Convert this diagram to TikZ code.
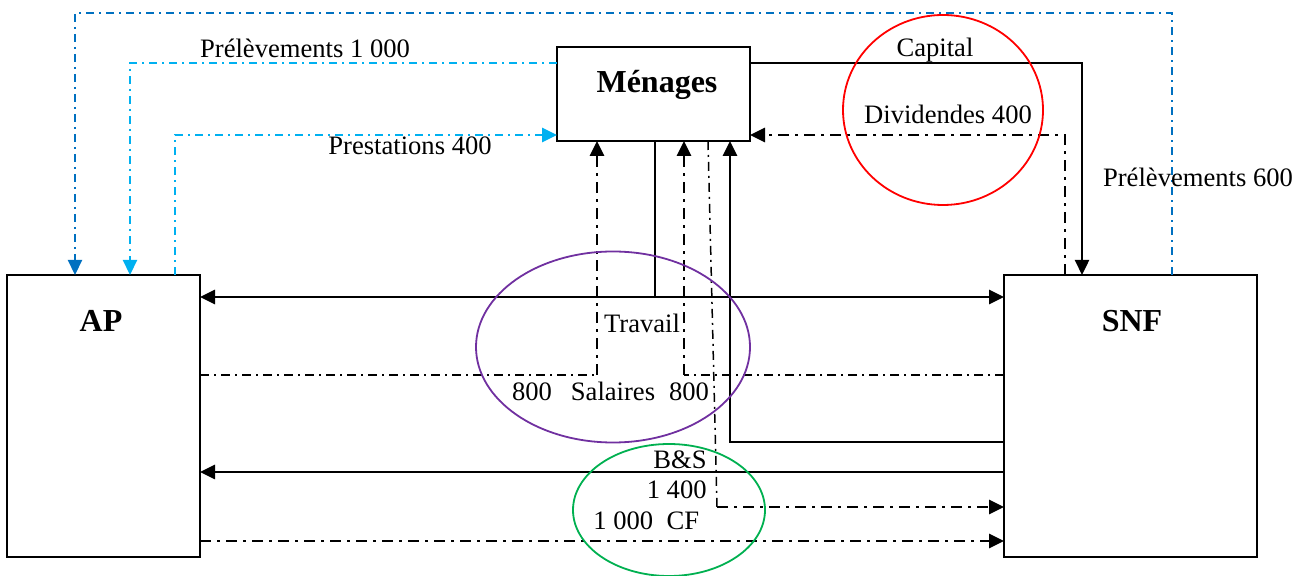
\documentclass[tikz,border=0pt]{standalone}
\usepackage{fontspec}
\setmainfont{Liberation Serif}
\usetikzlibrary{arrows.meta,shapes.geometric}
\definecolor{dblue}{HTML}{0070C0}
\definecolor{lblue}{HTML}{00B0F0}
\definecolor{ccred}{HTML}{FF0000}
\definecolor{ccpurple}{HTML}{7030A0}
\definecolor{ccgreen}{HTML}{00B050}
\begin{document}
\begin{tikzpicture}[x=0.5pt,y=-0.5pt,
  box/.style={draw=black,line width=1.1pt,inner sep=0pt,outer sep=0pt},
  lbl/.style={font=\fontsize{13.3}{16}\selectfont,inner sep=0pt,anchor=base},
  blbl/.style={font=\fontsize{16}{19}\selectfont\bfseries,inner sep=0pt,anchor=base},
  tip/.style={-{Triangle[length=7.5pt,width=7pt]}},
  dtip/.style={{Triangle[length=7.5pt,width=7pt]}-{Triangle[length=7.5pt,width=7pt]}},
  ddthick/.style={line width=1.4pt,dash pattern=on 5.5pt off 3pt on 1.5pt off 3pt},
  ddthin/.style={line width=0.75pt,dash pattern=on 4.5pt off 2.5pt on 1pt off 2.5pt},
  ddblue/.style={line width=1.1pt,dash pattern=on 4pt off 2.5pt on 1pt off 2.5pt},
  ring/.style={ellipse,draw,line width=0.9pt,inner sep=0pt,outer sep=0pt}]
\useasboundingbox (0,0) rectangle (1305,576);

% boxes
\node[box,minimum width=96.5pt,minimum height=47pt] (men) at (653.5,94) {};
\node[box,minimum width=96.5pt,minimum height=141pt] (ap) at (103.5,416) {};
\node[box,minimum width=126.5pt,minimum height=141pt] (snf) at (1130.5,416) {};
\node[blbl] (tmen) at (657,93) {Ménages};
\node[blbl] (tap) at (101,332) {AP};
\node[blbl] (tsnf) at (1132,332) {SNF};

% helper coordinates
\coordinate (y63) at (0,63);
\coordinate (y135) at (0,135);
\coordinate (y297) at (0,297);
\coordinate (y375) at (0,375);
\coordinate (y442) at (0,442);
\coordinate (y472) at (0,472);
\coordinate (y541) at (0,541);
\coordinate (x130) at (130,0);
\coordinate (x175) at (175,0);
\coordinate (x597) at (597,0);
\coordinate (x655) at (655,0);
\coordinate (x684) at (684,0);
\coordinate (x708) at (708,0);
\coordinate (x730) at (730,0);
\coordinate (x1065) at (1065,0);
\coordinate (x1082) at (1082,0);
\coordinate (x1172) at (1172,0);
\coordinate (tl) at (75,13);
\coordinate (cl) at (597,375);
\coordinate (cr) at (684,375);
\coordinate (cb) at (717,507);

% blue flows
\draw[ddblue,dblue,tip] (x1172 |- snf.north) |- (tl) -- (tl |- ap.north);
\draw[ddblue,lblue,tip] (men.west |- y63) -| (x130 |- ap.north);
\draw[ddblue,lblue,line width=1.4pt,tip] (x175 |- ap.north) |- (men.west |- y135);

% capital / dividends
\draw[line width=1.2pt,tip] (men.east |- y63) -| (x1082 |- snf.north);
\draw[ddthick,tip] (x1065 |- snf.north) |- (men.east |- y135);

% travail
\draw[line width=1.4pt,dtip] (ap.east |- y297) -- (snf.west |- y297);
\draw[line width=0.8pt] (x655 |- men.south) -- (x655 |- y297);

% salaires
\draw[ddthin] (ap.east |- y375) -- (cl);
\draw[ddthick,tip] (cl) -- (x597 |- men.south);
\draw[ddthin] (snf.west |- y375) -- (cr);
\draw[ddthick,tip] (cr) -- (x684 |- men.south);

% consumption flow
\draw[ddthin] (x708 |- men.south) -- (cb);
\draw[ddthick,tip] (cb) -- (snf.west |- cb);

% solid flow SNF -> Menages
\draw[line width=1.4pt,tip] (snf.west |- y442) -| (x730 |- men.south);

% B&S
\draw[line width=1.3pt,tip] (snf.west |- y472) -- (ap.east |- y472);
% CF
\draw[ddthick,tip] (ap.east |- y541) -- (snf.west |- y541);

% rings
\node[ring,draw=ccred,minimum width=100pt,minimum height=95pt] (rred) at (943,110) {};
\node[ring,draw=ccpurple,minimum width=137pt,minimum height=95.5pt] (rpur) at (613,347) {};
\node[ring,draw=ccgreen,minimum width=96pt,minimum height=66pt] (rgrn) at (669,510) {};

% labels
\node[lbl] (l1) at (305,58) {Prélèvements 1 000};
\node[lbl] (l2) at (410,155) {Prestations 400};
\node[lbl] (l3) at (935,57) {Capital};
\node[lbl] (l4) at (948,124) {Dividendes 400};
\node[lbl] (l5) at (1198,187) {Prélèvements 600};
\node[lbl] (l6) at (642,333) {Travail};
\node[lbl] (l7) at (532,401) {800};
\node[lbl] (l8) at (613,401) {Salaires};
\node[lbl] (l9) at (689,401) {800};
\node[lbl,anchor=base east] (l10) at (707,469) {B\&S};
\node[lbl,anchor=base east] (l11) at (707,498) {1 400};
\node[lbl,anchor=base west] (l12) at (593,529) {1 000~~CF};
\end{tikzpicture}
\end{document}
